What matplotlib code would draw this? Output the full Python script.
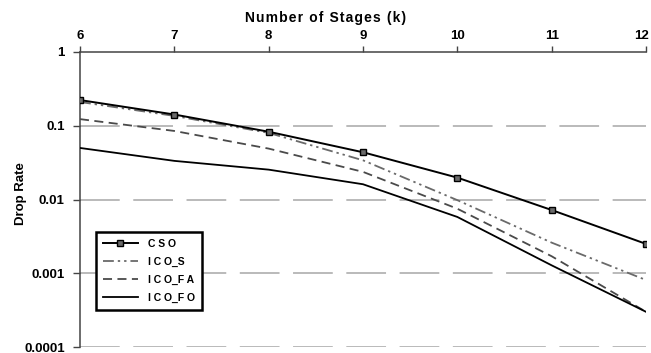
import matplotlib
matplotlib.use("Agg")
import matplotlib.pyplot as plt
import matplotlib.transforms as mtransforms
from matplotlib.ticker import FixedLocator, FixedFormatter, NullLocator

plt.rcParams['font.family'] = ['Liberation Sans', 'DejaVu Sans']
plt.rcParams['font.weight'] = 'bold'

# Data
stages = [6, 7, 8, 9, 10, 11, 12]
cso = [0.223, 0.142, 0.083, 0.0437, 0.0198, 0.0072, 0.0025]
ico_s = [0.21, 0.136, 0.080, 0.034, 0.0098, 0.0026, 0.00081]
ico_fa = [0.123, 0.085, 0.049, 0.0237, 0.0075, 0.0017, 0.0003]
ico_fo = [0.050, 0.0334, 0.0254, 0.0161, 0.0058, 0.00128, 0.0003]

y_ticks = [1, 0.1, 0.01, 0.001, 0.0001]
y_labels = ['1', '0.1', '0.01', '0.001', '0.0001']

fig = plt.figure(figsize=(6.51, 3.53), dpi=100)
ax = fig.add_axes([80 / 651, 1 - 347 / 353, 566 / 651, 295 / 353])

ax.set_yscale('log')
ax.set_ylim(0.0001, 1)
ax.set_xlim(6, 12)

# horizontal dashed gridlines
for v in y_ticks[1:]:
    ax.axhline(v, color='#b4b4b4', lw=1.3, linestyle=(0, (22, 7.5)), zorder=1)

ax.plot(stages, cso, color='black', lw=1.4, marker='s', markersize=4.5,
        mfc='#6a6a6a', mec='black', mew=1.0, label='CSO', zorder=5)
ax.plot(stages, ico_s, color='#6a6a6a', lw=1.3,
        linestyle=(0, (6, 2.2, 1.3, 2.2, 1.3, 2.2)), label='ICO_S', zorder=4)
ax.plot(stages, ico_fa, color='#4a4a4a', lw=1.3,
        linestyle=(0, (5, 3)), label='ICO_FA', zorder=4)
ax.plot(stages, ico_fo, color='black', lw=1.3, label='ICO_FO', zorder=4)

# axes styling: x axis on top, no right/bottom spine
ax.xaxis.tick_top()
ax.xaxis.set_label_position('top')
ax.set_xticks(stages)
ax.set_xticklabels([str(s) for s in stages], fontsize=9.5, fontweight='bold')
ax.yaxis.set_major_locator(FixedLocator(y_ticks))
ax.yaxis.set_major_formatter(FixedFormatter(y_labels))
ax.yaxis.set_minor_locator(NullLocator())
for lab in ax.get_yticklabels():
    lab.set_fontsize(9.5)
    lab.set_fontweight('bold')

ax.spines['right'].set_visible(False)
ax.spines['bottom'].set_visible(False)
for s in ['top', 'left']:
    ax.spines[s].set_color('#444444')
    ax.spines[s].set_linewidth(1.1)
ax.tick_params(axis='x', direction='out', length=4, width=1.0, color='#444444', pad=3)
ax.tick_params(axis='y', direction='out', length=5, width=1.0, color='#444444', pad=6)

# keep the last x label ("12") inside the figure edge
last = ax.get_xticklabels()[-1]
last.set_ha('right')
last.set_transform(last.get_transform() + mtransforms.ScaledTranslation(3 / 100, 0, fig.dpi_scale_trans))

title = '\u200a'.join('Number of Stages (k)')
ax.set_xlabel(title, fontsize=10, fontweight='bold')
ax.xaxis.set_label_coords(0.433, 1.115)
ax.xaxis.label.set_va('center')
ax.set_ylabel('Drop Rate', fontsize=9.5, fontweight='bold')
ax.yaxis.set_label_coords(-0.105, 0.52)
ax.yaxis.label.set_va('center')

leg = ax.legend(loc='lower left', bbox_to_anchor=(0.028, 0.125), borderaxespad=0,
                fancybox=False, framealpha=1, edgecolor='black',
                prop={'size': 7.5, 'weight': 'bold'}, handlelength=3.3,
                handletextpad=1.0, labelspacing=0.75, borderpad=0.7)
leg.get_frame().set_linewidth(1.8)
for t in leg.get_texts():
    t.set_text(' '.join(t.get_text()).replace('_ ', '_').replace(' _', '_'))

fig.savefig('out.png', dpi=100)
